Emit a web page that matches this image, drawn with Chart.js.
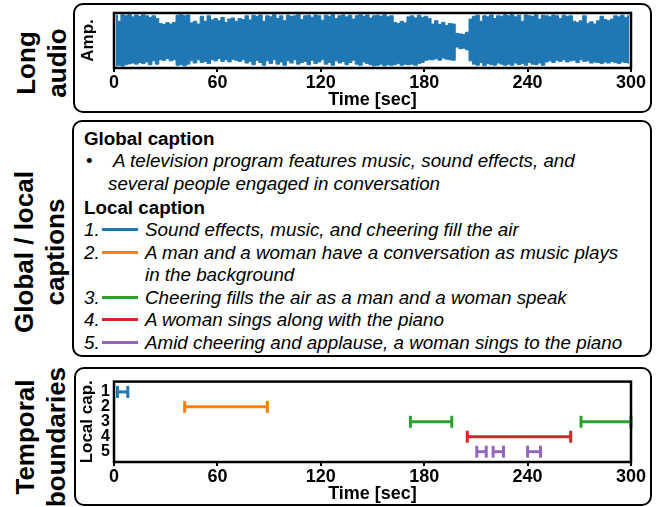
<!DOCTYPE html>
<html>
<head>
<meta charset="utf-8">
<script src="https://cdn.jsdelivr.net/npm/chart.js@4.4.0/dist/chart.umd.min.js"></script>
<style>
  body { margin: 0; background: #fff; font-family: "Liberation Sans", Arial, sans-serif; }
  #fig { position: relative; width: 659px; height: 507px; overflow: hidden; }
  .box { position: absolute; border: 2px solid #000; border-radius: 10px; box-sizing: border-box; }
  .side { position: absolute; font-weight: bold; font-size: 26px; line-height: 31px; text-align: center;
          white-space: nowrap; transform: translate(-50%, -50%) rotate(-90deg); }
  .ln { position: absolute; font-size: 18.8px; line-height: 22px; white-space: nowrap; font-style: italic; }
  .hd { font-style: normal; font-weight: bold; }
  .mk { position: absolute; height: 3px; width: 36px; }
  canvas { position: absolute; }
</style>
</head>
<body>
<div id="fig">
  <div class="box" style="left:73px;top:3px;width:579px;height:110px"></div>
  <div class="box" style="left:72px;top:120px;width:580px;height:237px"></div>
  <div class="box" style="left:74px;top:367px;width:578px;height:139px"></div>

  <div class="side" style="left:42px;top:63px">Long<br>audio</div>
  <div class="side" style="left:40px;top:252px">Global / local<br>captions</div>
  <div class="side" style="left:41px;top:437px">Temporal<br>boundaries</div>

  <div class="ln hd" style="left:84px;top:128px">Global caption</div>
  <div class="ln" style="left:86px;top:150px;font-style:normal">•</div>
  <div class="ln" style="left:113px;top:150px">A television program features music, sound effects, and</div>
  <div class="ln" style="left:108px;top:173px">several people engaged in conversation</div>
  <div class="ln hd" style="left:84px;top:197px">Local caption</div>
  <div id="local"></div>

  <canvas id="audio" width="580" height="106" style="left:76px;top:5px"></canvas>
  <canvas id="bounds" width="580" height="137" style="left:76px;top:368px"></canvas>
</div>

<script>
// waveform envelope, 2 s bins from 0 to 300 s
const binSec = 2;
const waveTop = [
  0.92, 0.7, 0.94, 0.9, 0.95, 0.86, 0.93, 0.88, 0.94, 0.9,
  0.84, 0.9, 0.8, 0.62, 0.58, 0.65, 0.6, 0.66, 0.92, 0.94,
  0.9, 0.93, 0.64, 0.7, 0.6, 0.88, 0.7, 0.9, 0.75, 0.8,
  0.72, 0.84, 0.66, 0.78, 0.82, 0.7, 0.8, 0.76,
  0.9, 0.75, 0.92, 0.88, 0.93, 0.7, 0.9, 0.86, 0.94, 0.8,
  0.9, 0.72, 0.92, 0.88, 0.9, 0.94, 0.76, 0.9, 0.92, 0.85,
  0.93, 0.9, 0.74, 0.92, 0.88, 0.94, 0.8, 0.9, 0.93, 0.86,
  0.92, 0.78, 0.9, 0.94, 0.88, 0.93, 0.82, 0.9,
  0.92, 0.88, 0.94, 0.86, 0.9, 0.66, 0.62, 0.7, 0.64, 0.86,
  0.9, 0.82, 0.92, 0.84, 0.88, 0.8, 0.6, 0.72, 0.58, 0.66,
  0.55, 0.62, 0.6, 0.26, 0.24, 0.22, 0.3, 0.78, 0.88, 0.92,
  0.7, 0.9, 0.86, 0.93, 0.8, 0.9, 0.88, 0.94,
  0.9, 0.94, 0.86, 0.92, 0.7, 0.93, 0.9, 0.88, 0.94, 0.78,
  0.92, 0.9, 0.86, 0.93, 0.9, 0.8, 0.92, 0.88, 0.9, 0.7,
  0.66, 0.72, 0.9, 0.62, 0.68, 0.6, 0.72, 0.88, 0.76, 0.72,
  0.78, 0.9, 0.86, 0.92, 0.84, 0.9
];
const waveBottom = [
  -0.92, -0.9, -0.93, -0.88, -0.85, -0.82, -0.86, -0.8, -0.84, -0.78,
  -0.88, -0.74, -0.86, -0.7, -0.72, -0.66, -0.74, -0.7, -0.9, -0.88,
  -0.92, -0.86, -0.74, -0.82, -0.7, -0.8, -0.76, -0.84, -0.7, -0.74,
  -0.66, -0.76, -0.7, -0.78, -0.68, -0.72, -0.76, -0.7,
  -0.82, -0.76, -0.88, -0.72, -0.8, -0.9, -0.74, -0.84, -0.7, -0.86,
  -0.78, -0.9, -0.74, -0.82, -0.7, -0.86, -0.8, -0.76, -0.88, -0.72,
  -0.84, -0.78, -0.7, -0.86, -0.8, -0.9, -0.74, -0.82, -0.76, -0.88,
  -0.8, -0.72, -0.86, -0.9, -0.78, -0.84, -0.88, -0.92,
  -0.9, -0.86, -0.92, -0.88, -0.9, -0.88, -0.84, -0.9, -0.86, -0.88,
  -0.86, -0.9, -0.84, -0.8, -0.72, -0.7, -0.7, -0.66, -0.72, -0.64,
  -0.68, -0.7, -0.72, -0.24, -0.3, -0.28, -0.34, -0.74, -0.86, -0.9,
  -0.8, -0.92, -0.84, -0.88, -0.9, -0.82, -0.86, -0.9,
  -0.86, -0.9, -0.82, -0.88, -0.84, -0.9, -0.8, -0.86, -0.88, -0.82,
  -0.9, -0.78, -0.74, -0.8, -0.72, -0.76, -0.7, -0.78, -0.74, -0.72,
  -0.8, -0.7, -0.76, -0.74, -0.82, -0.78, -0.8, -0.84, -0.78, -0.82,
  -0.76, -0.8, -0.84, -0.78, -0.8, -0.82
];
const timeTicks = [0, 60, 120, 180, 240, 300];

// local captions and their temporal segments
const captions = [
  ['Sound effects, music, and cheering fill the air'],
  ['A man and a woman have a conversation as music plays', 'in the background'],
  ['Cheering fills the air as a man and a woman speak'],
  ['A woman sings along with the piano'],
  ['Amid cheering and applause, a woman sings to the piano']
];
const rowTicks = [1, 2, 3, 4, 5];
const rowColors = ['#1f77b4', '#ff7f0e', '#2ca02c', '#d62728', '#9467bd'];
const segRow   = [1, 2, 3, 3, 4, 5, 5, 5];
const segStart = [2, 41, 172, 271, 205, 210.5, 220, 240];
const segEnd   = [8, 89, 196, 300, 265, 216, 226, 247.5];

// caption list (html text)
const local = document.getElementById('local');
let lineTop = 219;
captions.forEach((lines, i) => {
  local.insertAdjacentHTML('beforeend',
    `<div class="ln" style="left:84px;top:${lineTop}px">${i + 1}.</div>` +
    `<div class="mk" style="left:102px;top:${lineTop + 9}px;background:${rowColors[i]}"></div>`);
  lines.forEach(t => {
    local.insertAdjacentHTML('beforeend', `<div class="ln" style="left:145px;top:${lineTop}px">${t}</div>`);
    lineTop += 22.6;
  });
});

Chart.defaults.font.family = '"Liberation Sans", Arial, sans-serif';
Chart.defaults.color = '#000';

const frame = {
  id: 'frame',
  afterDraw(chart) {
    const { ctx, chartArea: a } = chart;
    ctx.save();
    ctx.strokeStyle = '#000';
    ctx.lineWidth = 2.5;
    ctx.strokeRect(a.left, a.top, a.right - a.left, a.bottom - a.top);
    ctx.restore();
  }
};

function timeAxis() {
  return {
    type: 'linear', min: 0, max: 300,
    afterBuildTicks: s => { s.ticks = timeTicks.map(v => ({ value: v })); },
    ticks: { font: { size: 18, weight: 'bold' }, padding: 0, maxRotation: 0, autoSkip: false },
    grid: { drawOnChartArea: false, color: '#000', lineWidth: 2, tickLength: 4 },
    border: { display: false },
    title: { display: true, text: 'Time [sec]', font: { size: 18, weight: 'bold' }, padding: 0 },
    afterFit: s => { s.height = 43; }
  };
}

const binX = waveTop.map((v, i) => i * binSec + binSec / 2);

new Chart(document.getElementById('audio'), {
  type: 'line',
  data: {
    datasets: [{
      data: waveTop.map((v, i) => ({ x: binX[i], y: v })),
      borderColor: '#1f77b4',
      backgroundColor: '#1f77b4',
      borderWidth: 1,
      pointRadius: 0,
      stepped: 'middle',
      fill: '+1'
    }, {
      data: waveBottom.map((v, i) => ({ x: binX[i], y: v })),
      borderColor: '#1f77b4',
      borderWidth: 1,
      pointRadius: 0,
      stepped: 'middle',
      fill: false
    }]
  },
  options: {
    responsive: false,
    animation: false,
    events: [],
    layout: { padding: { top: 8, right: 25, left: 0, bottom: 0 } },
    plugins: { legend: { display: false }, tooltip: { enabled: false } },
    scales: {
      x: timeAxis(),
      y: {
        min: -1, max: 1,
        ticks: { display: false },
        grid: { display: false, drawTicks: false },
        border: { display: false },
        title: { display: true, text: 'Amp.', font: { size: 17, weight: 'bold' }, padding: { top: 2, bottom: 0 } },
        afterFit: s => { s.width = 38; }
      }
    }
  },
  plugins: [frame]
});

new Chart(document.getElementById('bounds'), {
  type: 'line',
  data: {
    datasets: segRow.map((r, i) => ({
      data: [{ x: segStart[i], y: r }, { x: segEnd[i], y: r }],
      borderColor: rowColors[r - 1],
      borderWidth: 3,
      pointStyle: 'line',
      pointRadius: 6,
      pointRotation: 90,
      pointBorderWidth: 3,
      pointBorderColor: rowColors[r - 1],
      clip: false
    }))
  },
  options: {
    responsive: false,
    animation: false,
    events: [],
    layout: { padding: { top: 8, right: 25, left: 0, bottom: 0 } },
    plugins: { legend: { display: false }, tooltip: { enabled: false } },
    scales: {
      x: timeAxis(),
      y: {
        type: 'linear', reverse: true, min: 0.31, max: 5.69,
        afterBuildTicks: s => { s.ticks = rowTicks.map(v => ({ value: v })); },
        ticks: { font: { size: 16, weight: 'bold' }, padding: 4, autoSkip: false },
        grid: { display: false, drawTicks: false },
        border: { display: false },
        title: { display: true, text: 'Local cap.', font: { size: 17, weight: 'bold' }, padding: { top: 1, bottom: 0 } },
        afterFit: s => { s.width = 38; }
      }
    }
  },
  plugins: [frame]
});
</script>
</body>
</html>
